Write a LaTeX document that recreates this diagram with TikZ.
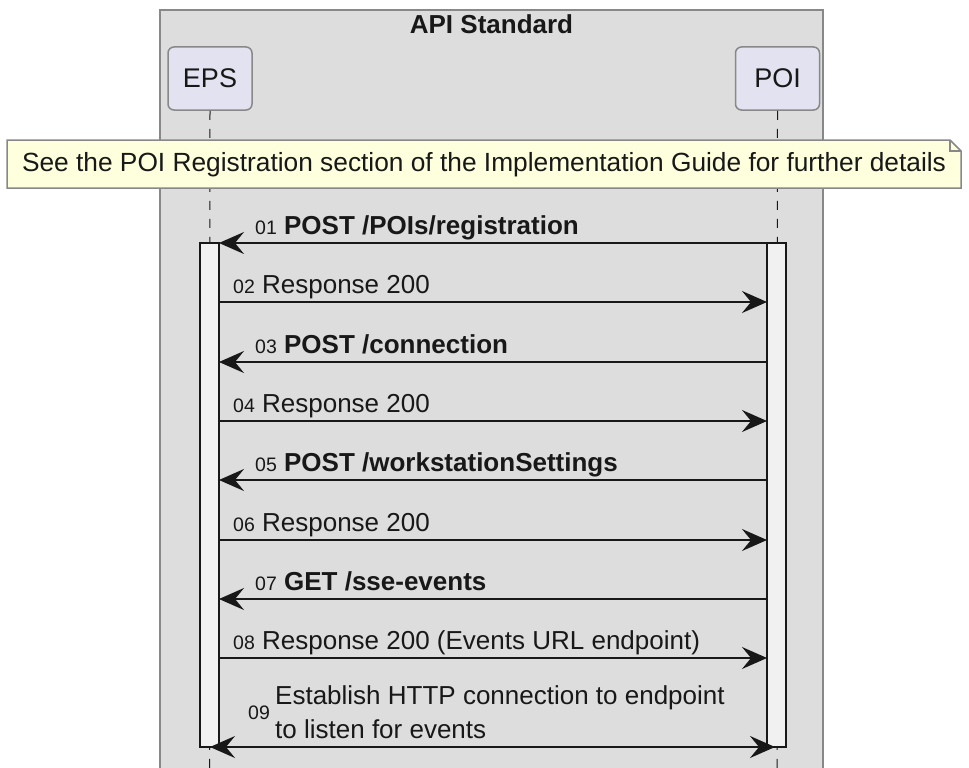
\documentclass[tikz,border=0pt]{standalone}
\usepackage{fontspec}
\setmainfont{Liberation Sans}
\usetikzlibrary{arrows.meta}
\definecolor{boxgray}{HTML}{DDDDDD}
\definecolor{bordergray}{HTML}{888888}
\definecolor{partfill}{HTML}{E2E2F0}
\definecolor{notefill}{HTML}{FEFFDD}
\definecolor{barfill}{HTML}{F1F1F1}
\definecolor{ink}{HTML}{181818}
\newcommand\msgnum{\fontsize{19.5}{22}\selectfont}
\tikzset{
  part/.style={draw=bordergray, line width=1.5pt, fill=partfill, rounded corners=6pt,
    minimum width=84pt, minimum height=63pt, inner sep=0pt, font=\fontsize{27}{31}\selectfont, text=ink},
  lifeline/.style={draw=ink, line width=1pt, dash pattern=on 9pt off 9pt},
  actbar/.style={draw=ink, line width=1.8pt, fill=barfill},
  tip/.style={},
  msg/.style={draw=ink, line width=1.8pt, -{Stealth[length=25pt, width=22pt, inset=9pt]}},
  msgboth/.style={draw=ink, line width=1.8pt, {Stealth[length=25pt, width=22pt, inset=9pt]}-{Stealth[length=25pt, width=22pt, inset=9pt]}},
  lbl/.style={anchor=base west, inner sep=0pt, font=\fontsize{26}{30}\selectfont, text=ink}
}
\begin{document}
\begin{tikzpicture}[x=1pt,y=-1pt]
\useasboundingbox (0,0) rectangle (969,768);
% group box
\draw[draw=bordergray, line width=1.5pt, fill=boxgray] (160,10) rectangle (823,790);
\node[font=\fontsize{26}{30}\selectfont\bfseries, text=ink] (title) at (491.5,24) {API Standard};
% participants
\node[part] (eps) at (210,78.5) {EPS};
\node[part] (poi) at (777.5,78.5) {POI};
\coordinate (epsend) at (209.5,790);
\coordinate (poiend) at (777,790);
\draw[lifeline] (eps.south) -- (epsend);
\draw[lifeline] (poi.south) -- (poiend);
% note
\draw[draw=bordergray, line width=1.5pt, fill=notefill] (7,140) -- (950,140) -- (961,151) -- (961,188) -- (7,188) -- cycle;
\draw[draw=bordergray, line width=1.5pt] (950,140) -- (950,151) -- (961,151);
\node[font=\fontsize{26.3}{30}\selectfont, text=ink] (note) at (484,165) {See the POI Registration section of the Implementation Guide for further details};
% activation bars
\draw[actbar] (200,243) rectangle (219,747);
\draw[actbar] (767,243) rectangle (786,747);
% message end points
\foreach \i/\y in {1/243,2/302,3/362,4/421,5/480,6/540,7/599,8/658}{
  \coordinate (e\i) at (219,\y);
  \coordinate (p\i) at (767,\y);
}
\coordinate (e9) at (210,747);
\coordinate (p9) at (775,747);
% messages
\draw[msg] (p1) -- (e1);
\node[lbl] (l1) at (255,234) {{\msgnum 01} \bfseries POST /POIs/registration};
\draw[msg] (e2) -- (p2);
\node[lbl] (l2) at (233,293) {{\msgnum 02} Response 200};
\draw[msg] (p3) -- (e3);
\node[lbl] (l3) at (255,353) {{\msgnum 03} \bfseries POST /connection};
\draw[msg] (e4) -- (p4);
\node[lbl] (l4) at (233,412) {{\msgnum 04} Response 200};
\draw[msg] (p5) -- (e5);
\node[lbl] (l5) at (255,471) {{\msgnum 05} \bfseries POST /workstationSettings};
\draw[msg] (e6) -- (p6);
\node[lbl] (l6) at (233,531) {{\msgnum 06} Response 200};
\draw[msg] (p7) -- (e7);
\node[lbl] (l7) at (255,590) {{\msgnum 07} \bfseries GET /sse-events};
\draw[msg] (e8) -- (p8);
\node[lbl] (l8) at (233,649) {{\msgnum 08} Response 200 (Events URL endpoint)};
\draw[msgboth] (e9) -- (p9);
\node[anchor=west, inner sep=0pt, font=\msgnum, text=ink] (n9) at (248,713) {09};
\node[anchor=west, inner sep=0pt, align=left, font=\fontsize{26}{34}\selectfont, text=ink] (l9) at (275,712) {Establish HTTP connection to endpoint\\to listen for events};
\end{tikzpicture}
\end{document}
